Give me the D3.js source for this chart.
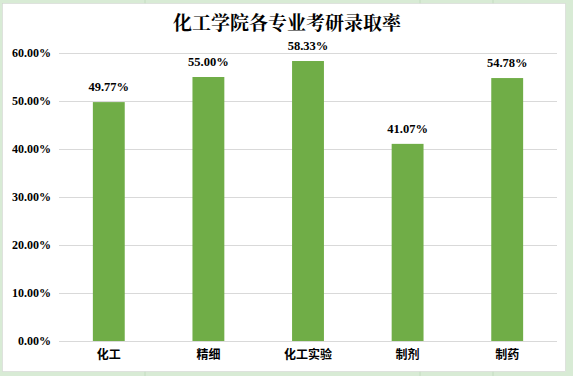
<!DOCTYPE html>
<html><head><meta charset="utf-8">
<script src="https://cdn.jsdelivr.net/npm/d3@7"></script>
<style>body{margin:0;background:#d8ebd5;}svg{display:block;}</style>
</head><body>
<svg id="c" width="573" height="376"></svg>
<script>
const title = "化工学院各专业考研录取率";
const categories = ["化工", "精细", "化工实验", "制剂", "制药"];
const values = [0.4977, 0.5500, 0.5833, 0.4107, 0.5478];
const yTicks = [0, 0.1, 0.2, 0.3, 0.4, 0.5, 0.6];

const svg = d3.select("#c");
const bgLinesX = [145, 420, 493];
svg.selectAll(".bgx").data(bgLinesX).enter().append("line")
  .attr("x1", d => d).attr("x2", d => d).attr("y1", 0).attr("y2", 376)
  .attr("stroke", "#c3dcc0").attr("stroke-width", 1);
svg.append("rect").attr("x", 2.5).attr("y", 3.5).attr("width", 563).attr("height", 368)
  .attr("fill", "#fff").attr("stroke", "#d0d0d0").attr("stroke-width", 0.5);

const x = d3.scaleBand().domain(categories).range([59, 557]).paddingInner(0.68).paddingOuter(0.34);
const y = d3.scaleLinear().domain([0, 0.6]).range([341, 53]);

const g = svg.append("g");
g.selectAll(".grid").data(yTicks).enter().append("line")
  .attr("x1", 59).attr("x2", 557)
  .attr("y1", d => Math.round(y(d)) + 0.5).attr("y2", d => Math.round(y(d)) + 0.5)
  .attr("stroke", "#d9d9d9").attr("stroke-width", 1);

const yAxis = d3.axisLeft(y).tickValues(yTicks).tickFormat(d => (d * 100).toFixed(2) + "%").tickSize(0).tickPadding(8);
const ya = svg.append("g").attr("transform", "translate(59,0)").call(yAxis);
ya.select(".domain").remove();
ya.selectAll("text").attr("font-family", "'Liberation Serif', serif").attr("font-weight", "bold")
  .attr("font-size", 12).attr("fill", "#000");

g.selectAll(".bar").data(values).enter().append("rect")
  .attr("x", (d, i) => x(categories[i])).attr("width", x.bandwidth())
  .attr("y", d => y(d)).attr("height", d => y(0) - y(d))
  .attr("fill", "#70ad47");

g.selectAll(".lbl").data(values).enter().append("text")
  .attr("x", (d, i) => x(categories[i]) + x.bandwidth() / 2)
  .attr("y", d => y(d) - 11)
  .attr("text-anchor", "middle")
  .attr("font-family", "'Liberation Serif', serif").attr("font-weight", "bold").attr("font-size", 12.5)
  .text(d => (d * 100).toFixed(2) + "%");

const xAxis = d3.axisBottom(x).tickSize(0).tickPadding(9);
const xa = svg.append("g").attr("transform", "translate(0,341)").call(xAxis);
xa.select(".domain").remove();
xa.selectAll("text").attr("font-family", "'Noto Sans CJK SC', sans-serif").attr("font-weight", "bold")
  .attr("font-size", 12).attr("fill", "#000");

svg.append("text").attr("x", 287).attr("y", 30).attr("text-anchor", "middle")
  .attr("font-family", "'Noto Serif CJK SC', 'Noto Sans CJK SC', serif").attr("font-weight", "bold")
  .attr("font-size", 19).text(title);
</script>
</body></html>
